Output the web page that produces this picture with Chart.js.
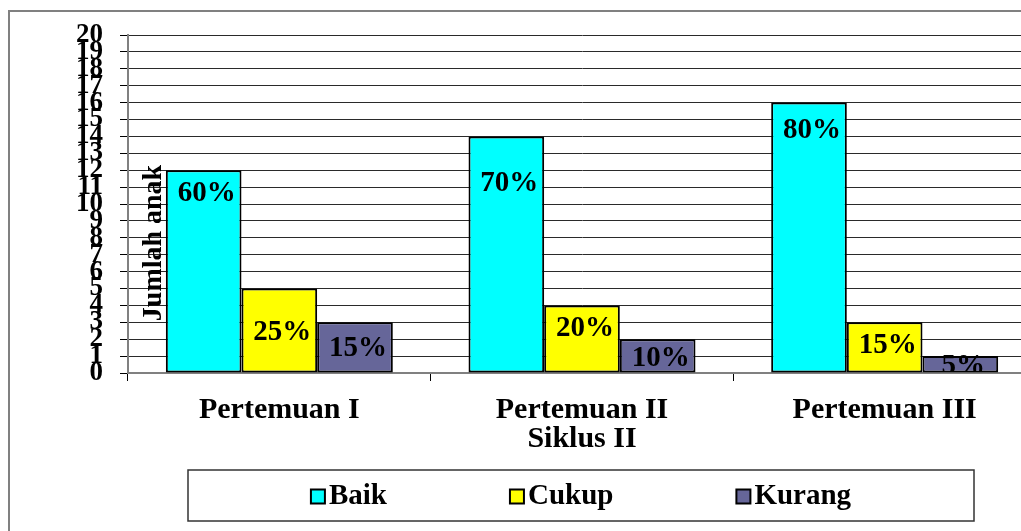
<!DOCTYPE html>
<html>
<head>
<meta charset="utf-8">
<script src="https://cdn.jsdelivr.net/npm/chart.js@4.4.1/dist/chart.umd.min.js"></script>
<style>
html, body { margin: 0; padding: 0; overflow: hidden; background: #fff; }
canvas { display: block; }
</style>
</head>
<body>
<canvas id="chart" width="1060" height="531"></canvas>
<script>
// data
const categories = [["Pertemuan I"], ["Pertemuan II", "Siklus II"], ["Pertemuan III"]];
const baik = [12, 14, 16];
const cukup = [5, 4, 3];
const kurang = [3, 2, 1];
const baikPct = ["60%", "70%", "80%"];
const cukupPct = ["25%", "20%", "15%"];
const kurangPct = ["15%", "10%", "5%"];
const yMax = 20;

// styles
const SERIF = "'Liberation Serif', 'Times New Roman', serif";
const colors = ["#00FFFF", "#FFFF00", "#666699"];
const pctLabels = [baikPct, cukupPct, kurangPct];
// how far below the bar top each percent label sits
const labelDrop = [[23, 47, 28], [44, 23, 23], [26, 19, 10]];

// outer gray frame (runs off the right/bottom of the picture)
const framePlugin = {
    id: "frame",
    beforeDraw(chart) {
        const ctx = chart.ctx;
        ctx.save();
        ctx.strokeStyle = "#808080";
        ctx.lineWidth = 2;
        ctx.strokeRect(9, 11, 1300, 800);
        ctx.restore();
    }
};

// rotated axis title sitting inside the plot
const yTitlePlugin = {
    id: "yTitle",
    beforeDatasetsDraw(chart) {
        const ctx = chart.ctx;
        ctx.save();
        ctx.translate(154, 243);
        ctx.rotate(-Math.PI / 2);
        ctx.font = "bold 28px " + SERIF;
        ctx.fillStyle = "#000";
        ctx.textAlign = "center";
        ctx.textBaseline = "middle";
        ctx.fillText("Jumlah anak", 0, 0);
        ctx.restore();
    }
};

// percent labels inside the bars
const pctPlugin = {
    id: "pct",
    afterDatasetsDraw(chart) {
        const ctx = chart.ctx, a = chart.chartArea;
        ctx.save();
        ctx.beginPath();
        ctx.rect(a.left, a.top, a.right - a.left, a.bottom - a.top - 1);
        ctx.clip();
        ctx.font = "bold 29px " + SERIF;
        ctx.fillStyle = "#000";
        ctx.textAlign = "center";
        ctx.textBaseline = "middle";
        chart.data.datasets.forEach((ds, i) => {
            chart.getDatasetMeta(i).data.forEach((bar, j) => {
                ctx.fillText(pctLabels[i][j], bar.x + 3, bar.y + labelDrop[i][j]);
            });
        });
        ctx.restore();
    }
};

// boxed legend under the chart
const legendPlugin = {
    id: "boxLegend",
    afterDraw(chart) {
        const ctx = chart.ctx;
        const box = {x: 188, y: 470, w: 786, h: 51};
        ctx.save();
        ctx.strokeStyle = "#333";
        ctx.lineWidth = 1.5;
        ctx.strokeRect(box.x, box.y, box.w, box.h);
        ctx.font = "bold 29px " + SERIF;
        ctx.textBaseline = "middle";
        const sq = 14, gap = 4, spacing = 123;
        const items = chart.data.datasets.map(ds => ({
            label: ds.label, color: ds.backgroundColor, w: sq + gap + ctx.measureText(ds.label).width
        }));
        const total = items.reduce((s, it) => s + it.w, 0) + spacing * (items.length - 1);
        let x = box.x + (box.w - total) / 2;
        const cy = box.y + box.h / 2 + 1;
        items.forEach(it => {
            ctx.fillStyle = it.color;
            ctx.fillRect(x, cy - 7, sq, sq);
            ctx.strokeStyle = "#000";
            ctx.lineWidth = 2;
            ctx.strokeRect(x, cy - 7, sq, sq);
            ctx.fillStyle = "#000";
            ctx.fillText(it.label, x + sq + gap, cy);
            x += it.w + spacing;
        });
        ctx.restore();
    }
};

new Chart(document.getElementById("chart"), {
    type: "bar",
    data: {
        labels: categories,
        datasets: [
            {label: "Baik", data: baik, backgroundColor: colors[0]},
            {label: "Cukup", data: cukup, backgroundColor: colors[1]},
            {label: "Kurang", data: kurang, backgroundColor: colors[2]}
        ].map(ds => Object.assign(ds, {
            borderColor: "#000", borderWidth: 2, borderSkipped: false,
            categoryPercentage: 0.75, barPercentage: 1
        }))
    },
    options: {
        responsive: false,
        animation: false,
        devicePixelRatio: 1,
        layout: {padding: {top: 35, right: 24, left: 0, bottom: 0}},
        plugins: {
            legend: {display: false},
            tooltip: {enabled: false}
        },
        scales: {
            x: {
                offset: true,
                grid: {drawOnChartArea: false, drawTicks: true, tickLength: 8, color: "#000", lineWidth: 1},
                border: {color: "#808080", width: 2},
                ticks: {
                    color: "#000", padding: 15, maxRotation: 0, autoSkip: false,
                    font: {family: SERIF, size: 30, weight: "bold", lineHeight: 0.97}
                },
                afterFit: s => { s.height = 158; }
            },
            y: {
                min: 0, max: yMax,
                grid: {color: "#2a2a2a", lineWidth: 1, tickLength: 8, tickColor: "#000"},
                border: {color: "#808080", width: 2},
                ticks: {
                    stepSize: 1, color: "#000", padding: 17, autoSkip: false,
                    font: {family: SERIF, size: 27, weight: "bold"}
                },
                afterFit: s => { s.width = 128; }
            }
        }
    },
    plugins: [framePlugin, yTitlePlugin, pctPlugin, legendPlugin]
});
</script>
</body>
</html>
